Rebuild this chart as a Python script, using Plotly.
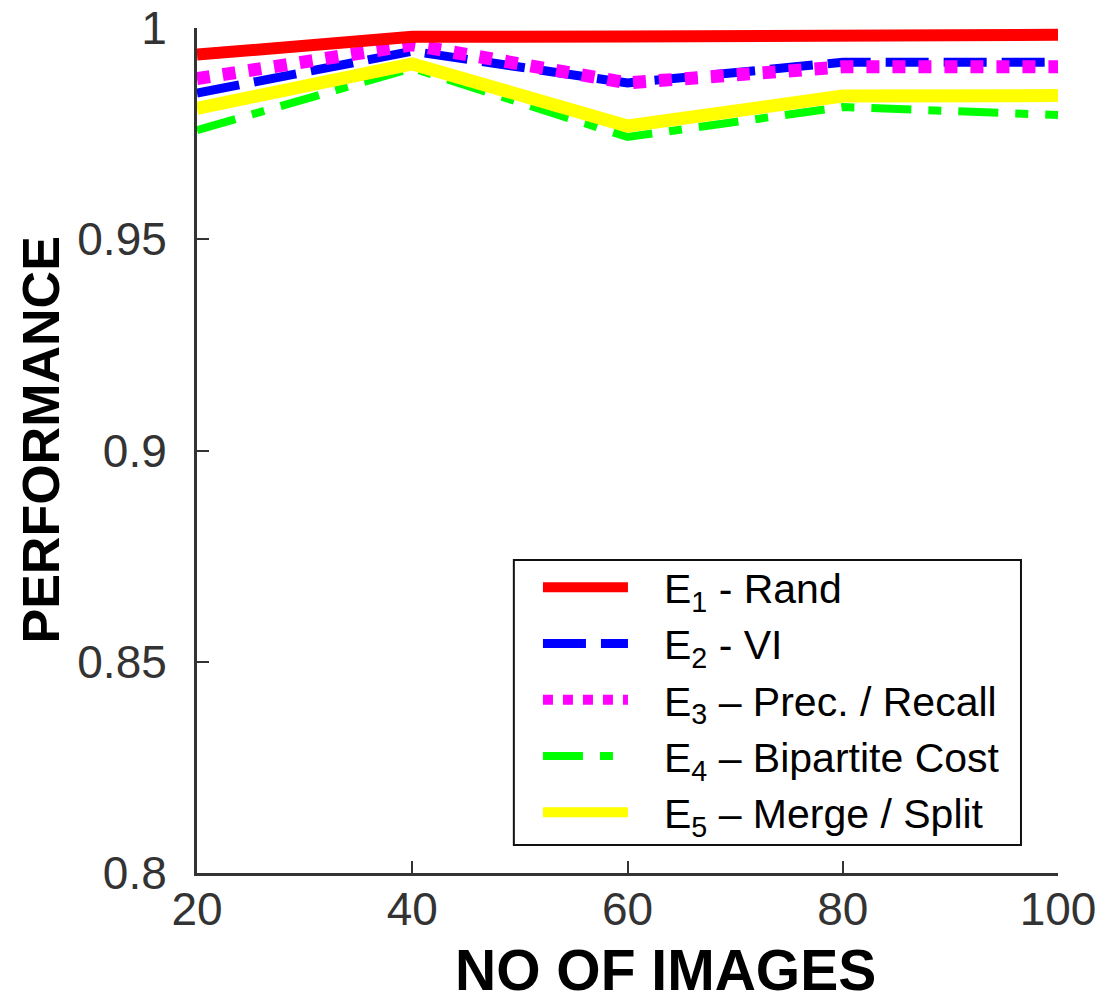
import plotly.graph_objects as go

x_images = [20, 40, 60, 80, 100]
e1_rand = [0.9937, 0.9979, 0.9980, 0.9983, 0.9984]
e2_vi = [0.9846, 0.9945, 0.9870, 0.9919, 0.9919]
e3_prec_recall = [0.9880, 0.9960, 0.9870, 0.9908, 0.9908]
e4_bipartite = [0.9758, 0.9905, 0.9742, 0.9813, 0.9794]
e5_merge_split = [0.9810, 0.9915, 0.9768, 0.9839, 0.9840]

pad = "\u00a0\u00a0\u2009"
names = [pad + "E<sub>1</sub> - Rand", pad + "E<sub>2</sub> - VI",
         pad + "E<sub>3</sub> \u2013 Prec. / Recall",
         pad + "E<sub>4</sub> \u2013 Bipartite Cost", pad + "E<sub>5</sub> \u2013 Merge / Split"]
x_ticks = [20, 40, 60, 80, 100]
y_ticks = [0.8, 0.85, 0.9, 0.95, 1]
y_tick_text = ["0.8", "0.85", "0.9", "0.95", "1"]

fig = go.Figure()
# drawing order: green, yellow, blue, magenta, red
fig.add_trace(go.Scatter(x=x_images, y=e4_bipartite, mode="lines", name=names[3], legendrank=4,
                         line=dict(color="#00FF00", width=8, dash="40px,17px,13px,17px")))
fig.add_trace(go.Scatter(x=x_images, y=e5_merge_split, mode="lines", name=names[4], legendrank=5,
                         line=dict(color="#FFFF00", width=13)))
fig.add_trace(go.Scatter(x=x_images, y=e2_vi, mode="lines", name=names[1], legendrank=2,
                         line=dict(color="#0000FF", width=9, dash="43px,15px")))
fig.add_trace(go.Scatter(x=x_images, y=e3_prec_recall, mode="lines", name=names[2], legendrank=3,
                         line=dict(color="#FF00FF", width=13, dash="dot")))
fig.add_trace(go.Scatter(x=x_images, y=e1_rand, mode="lines", name=names[0], legendrank=1,
                         line=dict(color="#FF0000", width=12)))

tickfont = dict(family="Liberation Sans, Arial, sans-serif", size=46, color="#333333")

fig.update_layout(
    width=1098, height=992,
    margin=dict(l=189, r=48, t=20, b=127),
    paper_bgcolor="white", plot_bgcolor="white",
    showlegend=True,
    legend=dict(x=0.396, y=0.3775, xanchor="left", yanchor="top",
                borderwidth=0, bgcolor="rgba(0,0,0,0)",
                font=dict(family="Liberation Sans, Arial, sans-serif", size=41, color="black"),
                itemwidth=85, tracegroupgap=0),
    shapes=[dict(type="rect", xref="paper", yref="paper", x0=0.368, x1=0.957, y0=0.0331, y1=0.3704,
                 line=dict(color="#111111", width=2), fillcolor="white", layer="above")],
    xaxis=dict(range=[20, 100], tickvals=x_ticks, ticktext=[str(v) for v in x_ticks],
               ticks="inside", ticklen=12, tickwidth=2, tickcolor="#333333",
               showline=True, linecolor="#333333", linewidth=3, showgrid=False, zeroline=False,
               tickfont=tickfont, ticklabelstandoff=-6, automargin=False,
               ticklabeloverflow="allow"),
    yaxis=dict(range=[0.8, 1], tickvals=y_ticks, ticktext=y_tick_text,
               ticks="inside", ticklen=12, tickwidth=2, tickcolor="#333333",
               showline=True, linecolor="#333333", linewidth=3, showgrid=False, zeroline=False,
               tickfont=tickfont, ticklabelstandoff=18, automargin=False,
               ticklabeloverflow="allow"),
    annotations=[
        dict(text="<b>NO OF IMAGES</b>", xref="paper", yref="paper", x=0.5436, y=-0.115,
             xanchor="center", yanchor="middle", showarrow=False,
             font=dict(family="Liberation Sans, Arial, sans-serif", size=57, color="black")),
        dict(text="<b>PERFORMANCE</b>", xref="paper", yref="paper", x=-0.181, y=0.512,
             xanchor="center", yanchor="middle", showarrow=False, textangle=-90,
             font=dict(family="Liberation Sans, Arial, sans-serif", size=52, color="black")),
    ],
)

fig.write_html("out.html")
